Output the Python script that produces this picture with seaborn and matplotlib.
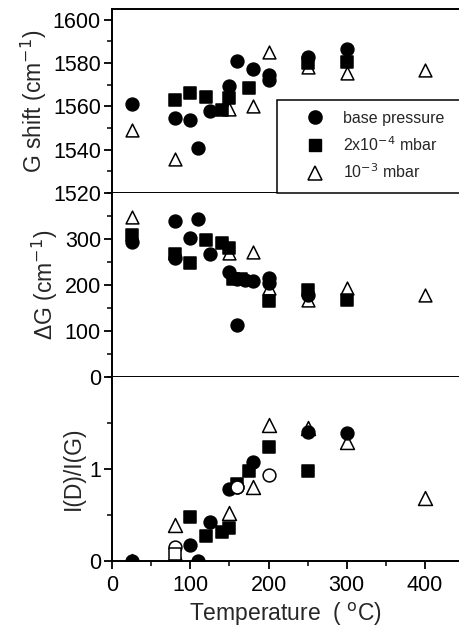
import matplotlib
matplotlib.use("Agg")
import matplotlib.pyplot as plt
import seaborn as sns
import pandas as pd
from matplotlib.ticker import MultipleLocator
from matplotlib.lines import Line2D
from matplotlib.patches import Rectangle

sns.set_theme(style="ticks")
plt.rcParams['font.family'] = ['Liberation Sans', 'DejaVu Sans']

# ---- data ----
# G shift (cm^-1)
g_base_T = [25, 80, 100, 110, 125, 150, 160, 180, 200, 200, 250, 300]
g_base_v = [1561, 1554.5, 1553.5, 1541, 1558, 1569.5, 1581, 1577.5, 1574.5, 1572, 1583, 1586.5]
g_p1_T = [80, 100, 120, 140, 150, 175, 250, 300]
g_p1_v = [1563, 1566, 1564.5, 1558.5, 1564, 1568.5, 1580, 1580.5]
g_p2_T = [25, 80, 150, 180, 200, 250, 300, 400]
g_p2_v = [1549, 1535.5, 1559, 1560, 1585, 1578, 1575.5, 1577]

# Delta G (cm^-1)
d_base_T = [25, 80, 80, 100, 110, 125, 150, 160, 160, 170, 180, 200, 200, 250]
d_base_v = [293, 338, 258, 302, 344, 268, 229, 113, 213, 211, 208, 215, 203, 178]
d_p1_T = [25, 80, 100, 120, 140, 150, 155, 165, 200, 250, 300]
d_p1_v = [309, 268, 248, 297, 291, 280, 213, 212, 164, 189, 168]
d_p2_T = [25, 150, 180, 200, 250, 300, 400]
d_p2_v = [348, 269, 271, 193, 168, 193, 178]

# I(D)/I(G)
r_base_T = [25, 80, 100, 110, 125, 150, 160, 180, 250, 300]
r_base_v = [0.0, 0.0, 0.17, 0.0, 0.42, 0.78, 0.80, 1.07, 1.40, 1.39]
r_p1_T = [100, 120, 140, 150, 160, 175, 200, 250]
r_p1_v = [0.48, 0.27, 0.31, 0.36, 0.83, 0.98, 1.24, 0.98]
r_p2_T = [25, 80, 150, 180, 200, 250, 300, 400]
r_p2_v = [0.0, 0.39, 0.52, 0.80, 1.48, 1.44, 1.29, 0.68]
r_open_c_T = [80, 160, 200]
r_open_c_v = [0.15, 0.80, 0.93]
r_open_s_T = [80]
r_open_s_v = [0.07]

labels = ["base pressure", "2x10$^{-4}$ mbar", "10$^{-3}$ mbar"]

# ---- figure ----
W, H = 459, 633
fig = plt.figure(figsize=(W / 100, H / 100), dpi=100)
left = 112 / W
right = 1.0
bounds = [(9, 193), (193, 376.7), (376.7, 560.7)]
axes = []
for top_px, bot_px in bounds:
    ax = fig.add_axes([left, 1 - bot_px / H, right - left, (bot_px - top_px) / H])
    axes.append(ax)

ms = 85
def draw(ax, T, v, marker, face, size=ms):
    df = pd.DataFrame({"T": T, "v": v})
    sns.scatterplot(data=df, x="T", y="v", ax=ax, marker=marker, s=size,
                    color=face, edgecolor="black", linewidth=1.1,
                    legend=False, zorder=3)

ax1, ax2, ax3 = axes
draw(ax1, g_p2_T, g_p2_v, "^", "white")
draw(ax1, g_p1_T, g_p1_v, "s", "black")
draw(ax1, g_base_T, g_base_v, "o", "black")

draw(ax2, d_p2_T, d_p2_v, "^", "white")
draw(ax2, d_p1_T, d_p1_v, "s", "black")
draw(ax2, d_base_T, d_base_v, "o", "black")

draw(ax3, r_p2_T, r_p2_v, "^", "white", size=100)
draw(ax3, r_p1_T, r_p1_v, "s", "black")
draw(ax3, r_base_T, r_base_v, "o", "black")
draw(ax3, r_open_c_T, r_open_c_v, "o", "white")
draw(ax3, r_open_s_T, r_open_s_v, "s", "white")

# legend frame (extends past the right edge, as in the reference)
frame = Rectangle((277 / W, 1 - 193 / H), (W + 20 - 277) / W, (193 - 100) / H,
                  transform=fig.transFigure, facecolor="white", edgecolor="black",
                  linewidth=1.1, zorder=4, clip_on=False)
fig.add_artist(frame)

handles = [
    Line2D([], [], marker="o", ls="", color="black", mfc="black", ms=9.5),
    Line2D([], [], marker="s", ls="", color="black", mfc="black", ms=8.5),
    Line2D([], [], marker="^", ls="", color="black", mfc="white", ms=9.5, mew=1.1),
]
leg = fig.legend(handles, labels, loc="center left",
                 bbox_to_anchor=(302 / W, 1 - 146 / H),
                 borderaxespad=0, borderpad=0, frameon=False, fontsize=11.5,
                 handletextpad=0.96, labelspacing=0.58, handlelength=1.6)
leg.set_zorder(5)

xmax = (W - 112) / 0.7825
for ax in axes:
    ax.set_xlim(0, xmax)
    ax.xaxis.set_major_locator(MultipleLocator(100))
    ax.xaxis.set_minor_locator(MultipleLocator(50))
    ax.spines["right"].set_visible(False)
    for s in ["left", "bottom", "top"]:
        ax.spines[s].set_linewidth(1.4)
        ax.spines[s].set_color("black")
    ax.tick_params(which="major", direction="out", length=6, width=1.3,
                   labelsize=15.5, colors="black", pad=2)
    ax.tick_params(which="minor", direction="out", length=3.5, width=1.1, colors="black")
    ax.set_xlabel("")
    ax.set_facecolor("white")

ax1.set_ylim(1520, 1605)
ax1.yaxis.set_major_locator(MultipleLocator(20))
ax1.yaxis.set_minor_locator(MultipleLocator(10))
ax1.set_ylabel("G shift (cm$^{-1}$)", fontsize=16.5, labelpad=3)
ax1.tick_params(axis="x", labelbottom=False)

ax2.set_ylim(0, 400)
ax2.yaxis.set_minor_locator(MultipleLocator(50))
ax2.set_yticks([0, 100, 200, 300])
ax2.set_ylabel("ΔG (cm$^{-1}$)", fontsize=16.5, labelpad=3)
ax2.tick_params(axis="x", labelbottom=False)
ax2.spines["top"].set_visible(False)

ax3.set_ylim(0, 2.0)
ax3.set_yticks([0, 1])
ax3.yaxis.set_minor_locator(MultipleLocator(0.5))
ax3.set_ylabel("I(D)/I(G)", fontsize=16.5, labelpad=3)
ax3.spines["top"].set_visible(False)
ax3.tick_params(axis="x", which="major", pad=4)
ax3.set_xlabel("Temperature  ( $^{\\mathrm{o}}$C)", fontsize=16.5, labelpad=4)

fig.savefig("out.png", dpi=100, facecolor="white")
